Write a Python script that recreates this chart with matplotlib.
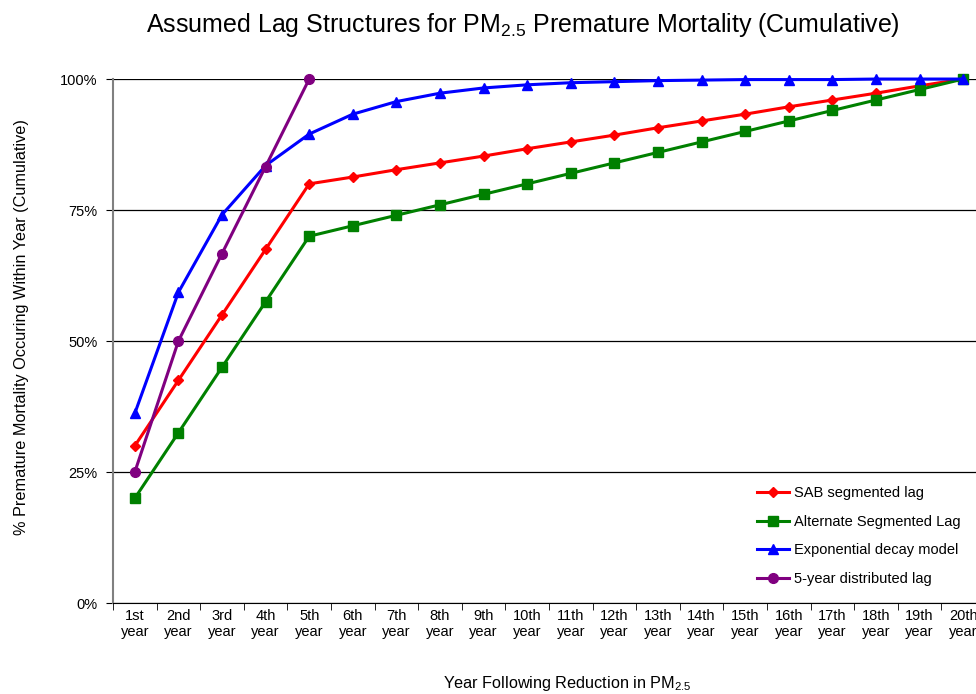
import matplotlib
matplotlib.use("Agg")
import matplotlib.pyplot as plt
from matplotlib.ticker import FixedLocator

plt.rcParams["font.family"] = ["Liberation Sans", "DejaVu Sans"]
plt.rcParams["mathtext.default"] = "regular"

years = ["1st", "2nd", "3rd", "4th", "5th", "6th", "7th", "8th", "9th", "10th",
         "11th", "12th", "13th", "14th", "15th", "16th", "17th", "18th", "19th", "20th"]

sab_lag = [30.0, 42.5, 55.0, 67.5, 80.0, 81.3, 82.7, 84.0, 85.3, 86.7,
           88.0, 89.3, 90.7, 92.0, 93.3, 94.7, 96.0, 97.3, 98.7, 100.0]
alt_lag = [20.0, 32.5, 45.0, 57.5, 70.0, 72.0, 74.0, 76.0, 78.0, 80.0,
           82.0, 84.0, 86.0, 88.0, 90.0, 92.0, 94.0, 96.0, 98.0, 100.0]
exp_decay = [36.2, 59.3, 74.1, 83.5, 89.5, 93.3, 95.7, 97.3, 98.3, 98.9,
             99.3, 99.5, 99.7, 99.8, 99.9, 99.9, 99.9, 100.0, 100.0, 100.0]
five_year = [25.0, 50.0, 66.7, 83.3, 100.0]

series = [
    ("SAB segmented lag", sab_lag, "#FF0000", "D", 5),
    ("Alternate Segmented Lag", alt_lag, "#008000", "s", 7),
    ("Exponential decay model", exp_decay, "#0000FF", "^", 7.5),
    ("5-year distributed lag", five_year, "#800080", "o", 7),
]

fig = plt.figure(figsize=(9.76, 6.94), dpi=100)
ax = fig.add_axes([0.1158, 0.1311, 0.8934, 0.7550])

x = list(range(len(years)))
for label, vals, color, marker, ms in series:
    ax.plot(x[:len(vals)], vals, color=color, marker=marker, markersize=ms,
            linewidth=2.2, label=label, clip_on=False, zorder=3)

ax.set_xlim(-0.5, len(years) - 0.5)
ax.set_ylim(0, 100)

ax.set_yticks([0, 25, 50, 75, 100])
ax.set_yticklabels(["0%", "25%", "50%", "75%", "100%"], fontsize=10.5)
ax.yaxis.grid(True, color="black", linewidth=0.9)
ax.set_axisbelow(True)

ax.set_xticks(x)
ax.set_xticklabels([f"{y}\nyear" for y in years], fontsize=10.5, linespacing=1.25)
ax.xaxis.set_minor_locator(FixedLocator([i - 0.5 for i in range(len(years) + 1)]))
ax.tick_params(axis="x", which="major", length=0, pad=4)
ax.tick_params(axis="x", which="minor", length=5, direction="out", color="black")
ax.tick_params(axis="y", length=5, direction="out", color="black", pad=6)

for side in ("top", "right"):
    ax.spines[side].set_visible(False)
ax.spines["left"].set_color("#808080")
ax.spines["left"].set_linewidth(1.5)
ax.spines["bottom"].set_color("black")

fig.text(0.0225, 0.529, "% Premature Mortality Occuring Within Year (Cumulative)",
         rotation=90, ha="center", va="center", fontsize=11.7)
fig.text(0.581, 0.008, "Year Following Reduction in PM$_{2.5}$", ha="center", fontsize=11.7)
fig.text(0.536, 0.954, "Assumed Lag Structures for PM$_{2.5}$ Premature Mortality (Cumulative)",
         ha="center", fontsize=18)

ax.legend(loc="upper left", bbox_to_anchor=(0.77, 0.308), bbox_transform=fig.transFigure,
          frameon=False, fontsize=10.5, handlelength=2.2, handletextpad=0.3,
          labelspacing=1.0, borderaxespad=0)

fig.savefig("out.png", dpi=100)
